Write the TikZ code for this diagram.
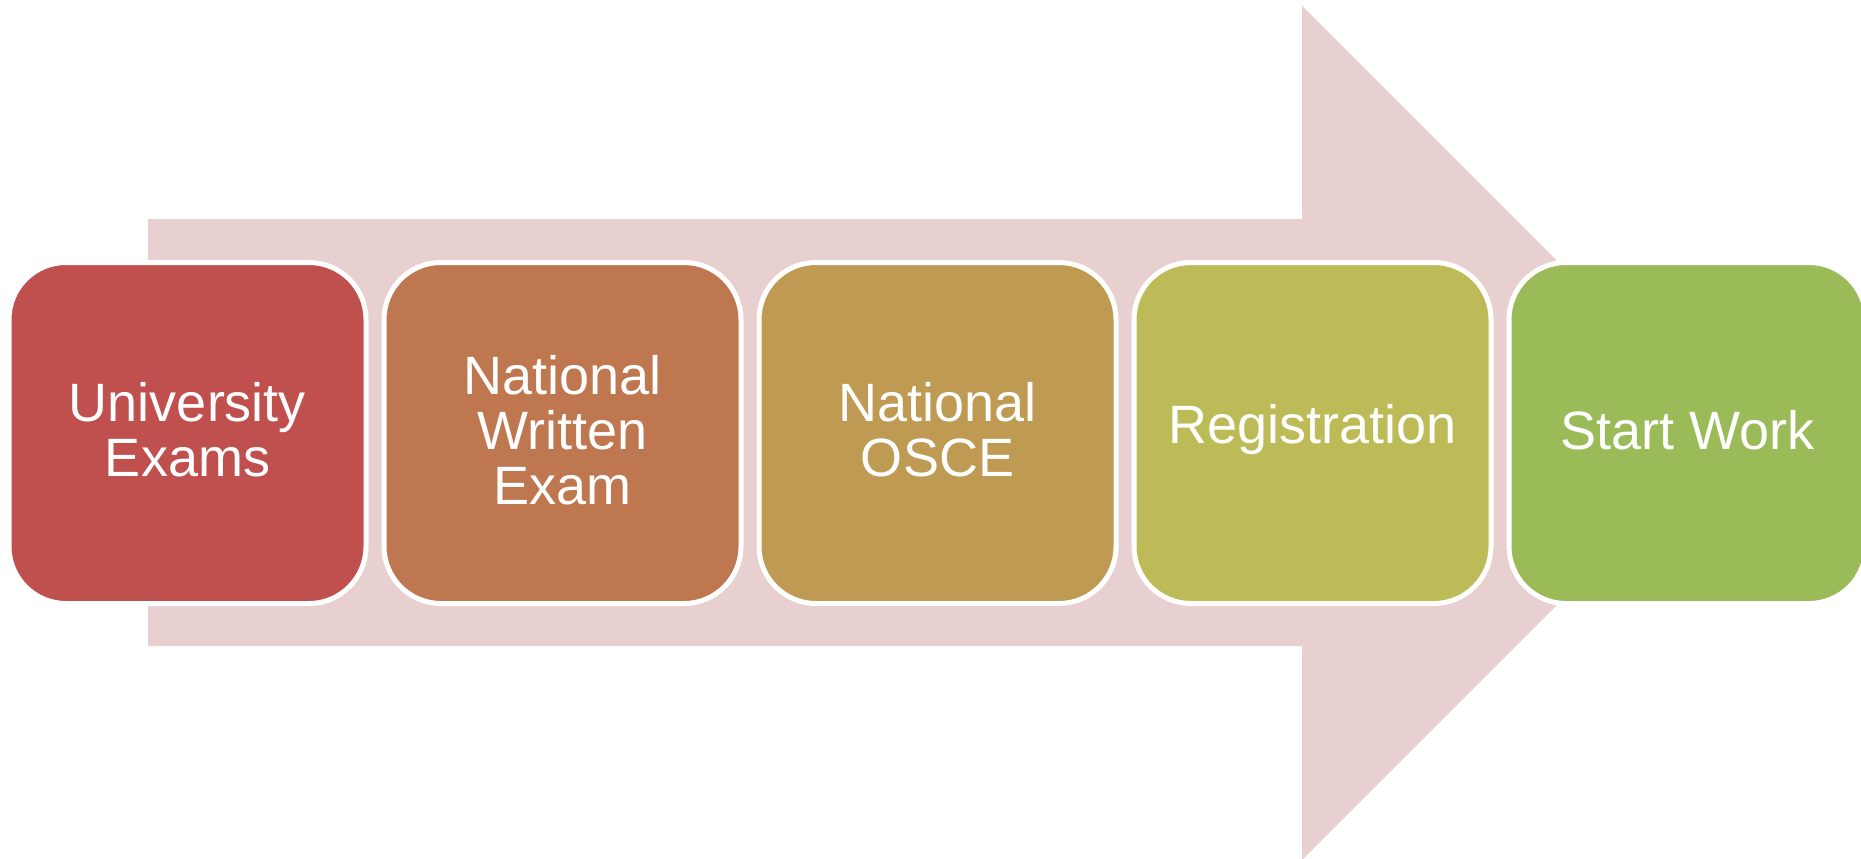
\documentclass[tikz,border=0pt]{standalone}
\usepackage{fontspec}
\setmainfont{Liberation Sans}
\definecolor{arrowpink}{RGB}{232,208,209}
\definecolor{stepA}{RGB}{192,80,77}
\definecolor{stepB}{RGB}{191,119,80}
\definecolor{stepC}{RGB}{190,154,82}
\definecolor{stepD}{RGB}{189,187,87}
\definecolor{stepE}{RGB}{155,187,89}
\tikzset{
  stagebox/.style={draw=white, line width=5pt, rounded corners=57pt,
    minimum width=357pt, minimum height=341pt, inner sep=0pt,
    text=white, align=center, font=\fontsize{54pt}{55pt}\selectfont},
  stagetext/.style={text=white, align=center, yshift=3pt,
    font=\fontsize{54pt}{55pt}\selectfont}
}
\begin{document}
\begin{tikzpicture}[x=1pt, y=-1pt]
\useasboundingbox (0,0) rectangle (1861,859);
\clip (0,0) rectangle (1861,859);
\fill[arrowpink] (148,219) -- (1302,219) -- (1302,6) -- (1729,433)
-- (1302,860) -- (1302,646) -- (148,646) -- cycle; % Fleche
%
\node[stagebox, fill=stepA] (uni) at (187.5,433) {};
\node[stagebox, fill=stepB] (written) at (562.5,433) {};
\node[stagebox, fill=stepC] (osce) at (937.5,433) {};
\node[stagebox, fill=stepD] (reg) at (1312.5,433) {};
\node[stagebox, fill=stepE] (work) at (1687.5,433) {};
%
\node[stagetext] (unitext) at (uni) {University\\Exams};
\node[stagetext] (writtentext) at (written) {National\\Written\\Exam};
\node[stagetext] (oscetext) at (osce) {National\\OSCE};
\node[stagetext] (regtext) at (reg) {Registration};
\node[stagetext] (worktext) at (work) {Start Work};
\end{tikzpicture}
\end{document}
